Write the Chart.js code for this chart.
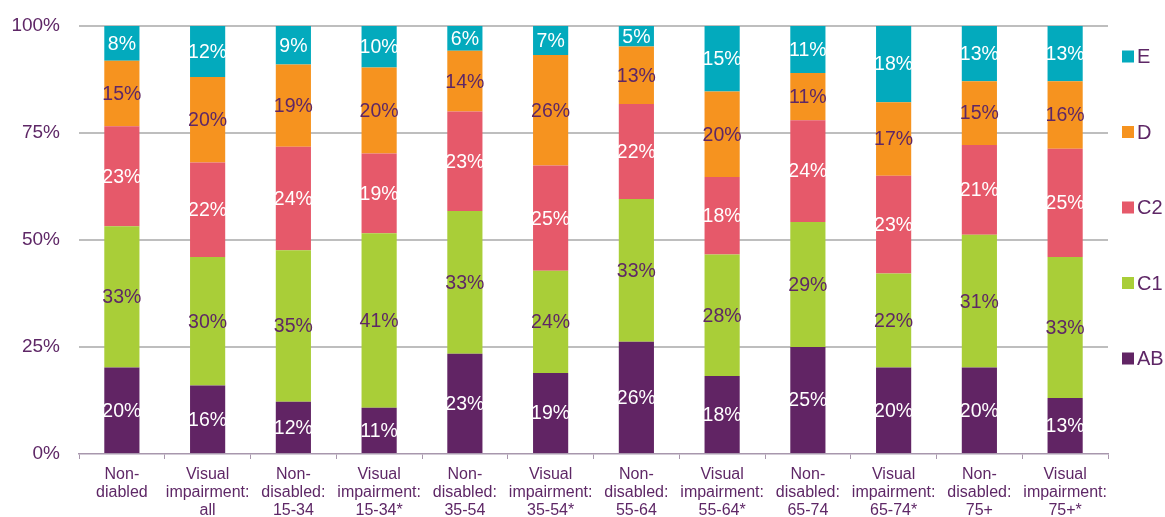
<!DOCTYPE html>
<html>
<head>
<meta charset="utf-8">
<title>Social grade by disability and age</title>
<script src="https://cdn.jsdelivr.net/npm/chart.js@4.4.1/dist/chart.umd.min.js"></script>
<style>
  html, body { margin: 0; padding: 0; background: #ffffff; }
  #wrap { width: 1165px; height: 517px; }
</style>
</head>
<body>
<div id="wrap"><canvas id="chart" width="1165" height="517"></canvas></div>
<script>
// Categories (multi-line axis labels)
const categories = [
  ['Non-', 'diabled'],
  ['Visual', 'impairment:', 'all'],
  ['Non-', 'disabled:', '15-34'],
  ['Visual', 'impairment:', '15-34*'],
  ['Non-', 'disabled:', '35-54'],
  ['Visual', 'impairment:', '35-54*'],
  ['Non-', 'disabled:', '55-64'],
  ['Visual', 'impairment:', '55-64*'],
  ['Non-', 'disabled:', '65-74'],
  ['Visual', 'impairment:', '65-74*'],
  ['Non-', 'disabled:', '75+'],
  ['Visual', 'impairment:', '75+*']
];

// Share of each social grade (%), per category
const gradeAB = [20.2, 16.0, 12.2, 10.8, 23.4, 18.9, 26.2, 18.2, 25.0, 20.2, 20.2, 13.1];
const gradeC1 = [33.0, 30.0, 35.4, 40.8, 33.4, 23.9, 33.4, 28.4, 29.2, 22.0, 31.0, 32.9];
const gradeC2 = [23.4, 22.1, 24.2, 18.6, 23.2, 24.6, 22.2, 18.1, 23.8, 22.8, 21.0, 25.3];
const gradeD  = [15.3, 20.0, 19.2, 20.1, 14.2, 25.8, 13.4, 20.0, 11.0, 17.2, 14.9, 15.8];
const gradeE  = [ 8.1, 11.9,  9.0,  9.7,  5.8,  6.8,  4.8, 15.3, 11.0, 17.8, 12.9, 12.9];

// Y axis tick values
const yTicks = [0, 25, 50, 75, 100];

const purple = '#5E2766';
const seriesStyle = [
  { label: 'AB', data: gradeAB, color: '#612464', text: '#ffffff' },
  { label: 'C1', data: gradeC1, color: '#A9CE38', text: purple },
  { label: 'C2', data: gradeC2, color: '#E6596A', text: '#ffffff' },
  { label: 'D',  data: gradeD,  color: '#F6931F', text: purple },
  { label: 'E',  data: gradeE,  color: '#03AABD', text: '#ffffff' }
];

const datasets = seriesStyle.map(s => ({
  label: s.label,
  data: s.data,
  backgroundColor: s.color,
  borderWidth: 0,
  barPercentage: 0.41,
  categoryPercentage: 1.0,
  labelColor: s.text
}));

// Percentage labels centred in each stacked segment
const segmentLabels = {
  id: 'segmentLabels',
  afterDatasetsDraw(chart) {
    const ctx = chart.ctx;
    ctx.save();
    ctx.font = '19.5px "Liberation Sans", Arial, sans-serif';
    ctx.textAlign = 'center';
    ctx.textBaseline = 'middle';
    chart.data.datasets.forEach((ds, di) => {
      const meta = chart.getDatasetMeta(di);
      ctx.fillStyle = ds.labelColor;
      meta.data.forEach((bar, i) => {
        const { x, y, base } = bar.getProps(['x', 'y', 'base'], true);
        ctx.fillText(Math.round(ds.data[i]) + '%', x, (y + base) / 2 + 1);
      });
    });
    ctx.restore();
  }
};

// Vertical legend to the right of the plot, top grade first
const sideLegend = {
  id: 'sideLegend',
  afterDraw(chart) {
    const ctx = chart.ctx;
    const area = chart.chartArea;
    const items = chart.data.datasets.slice().reverse();
    const box = 12;
    const step = 75.5;
    const left = area.right + 14;
    ctx.save();
    ctx.font = '20px "Liberation Sans", Arial, sans-serif';
    ctx.textAlign = 'left';
    ctx.textBaseline = 'middle';
    items.forEach((ds, i) => {
      const cy = area.top + 30.5 + i * step;
      ctx.fillStyle = ds.backgroundColor;
      ctx.fillRect(left, cy - box / 2, box, box);
      ctx.fillStyle = purple;
      ctx.fillText(ds.label, left + box + 3, cy + 1);
    });
    ctx.restore();
  }
};

new Chart(document.getElementById('chart'), {
  type: 'bar',
  data: { labels: categories, datasets },
  plugins: [segmentLabels, sideLegend],
  options: {
    responsive: false,
    devicePixelRatio: 1,
    animation: false,
    layout: { padding: { left: 0, right: 57, top: 26, bottom: 0 } },
    plugins: {
      legend: { display: false },
      tooltip: { enabled: false },
      title: { display: false }
    },
    scales: {
      x: {
        stacked: true,
        offset: true,
        afterFit(scale) { scale.height = 63; },
        grid: {
          offset: true,
          drawOnChartArea: false,
          drawTicks: true,
          tickLength: 5,
          tickColor: '#A897AD',
          tickWidth: 1
        },
        border: { display: true, color: '#A897AD', width: 1.5 },
        ticks: {
          autoSkip: false,
          maxRotation: 0,
          minRotation: 0,
          padding: 6,
          color: purple,
          font: { family: '"Liberation Sans", Arial, sans-serif', size: 16, lineHeight: 1.15 }
        }
      },
      y: {
        stacked: true,
        min: 0,
        max: 100,
        afterFit(scale) { scale.width = 79; },
        afterBuildTicks(scale) { scale.ticks = yTicks.map(v => ({ value: v })); },
        grid: {
          color: ctx => (ctx.tick && ctx.tick.value === 0) ? 'rgba(0,0,0,0)' : '#BEBEBE',
          lineWidth: 2,
          drawTicks: true,
          tickLength: 19,
          tickColor: 'rgba(0,0,0,0)'
        },
        border: { display: false },
        ticks: {
          padding: 0,
          color: purple,
          font: { family: '"Liberation Sans", Arial, sans-serif', size: 19 },
          callback: v => v + '%'
        }
      }
    }
  }
});
</script>
</body>
</html>
